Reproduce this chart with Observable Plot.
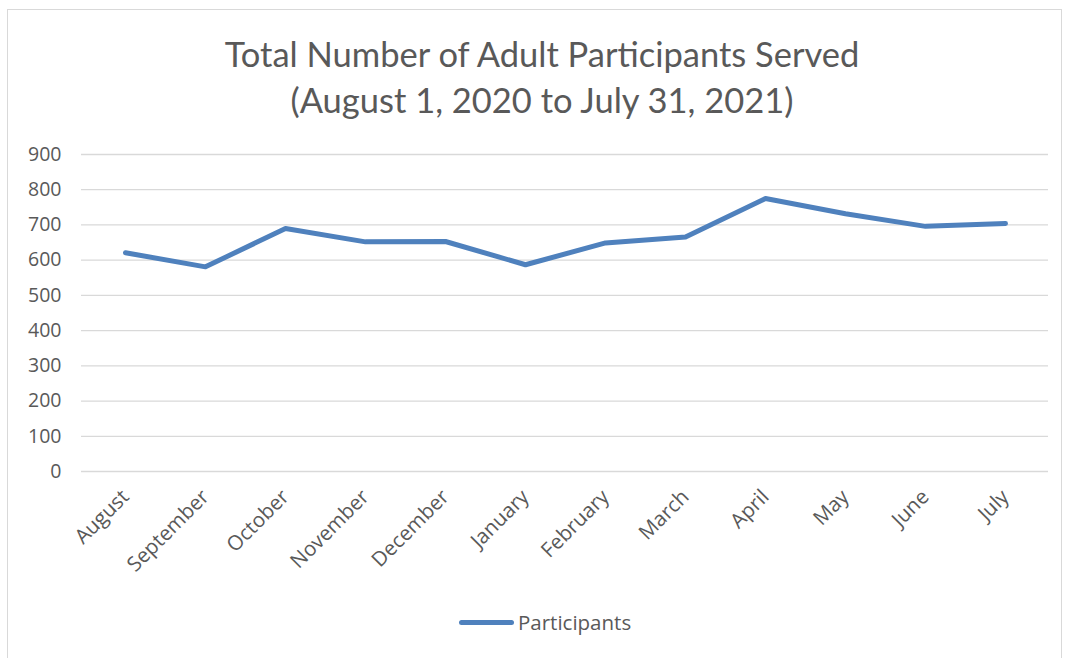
<!DOCTYPE html>
<html>
<head>
<meta charset="utf-8">
<script src="https://cdn.jsdelivr.net/npm/d3@7"></script>
<script src="https://cdn.jsdelivr.net/npm/@observablehq/plot@0.6"></script>
<style>
  html, body { margin: 0; padding: 0; background: #fff; }
  body { width: 1068px; height: 658px; position: relative; overflow: hidden; font-family: "Open Sans", Lato, sans-serif; }
  #frame { position: absolute; left: 7px; top: 9px; width: 1055px; height: 670px; border: 1px solid #d9d9d9; box-sizing: border-box; }
  #title { position: absolute; left: 8px; top: 31px; width: 1068px; text-align: center; color: #595959; font-family: Lato, "Open Sans", sans-serif; font-size: 34.5px; line-height: 46px; }
  #chart { position: absolute; left: 0; top: 125px; }
  #chart svg { overflow: visible; }
  #chart svg text { font-size: 19.5px; fill: #595959; }
  #chart svg g[aria-label="x-axis tick label"] text { font-size: 20.5px; }
  #legend { position: absolute; top: 608px; left: 459px; display: flex; align-items: center; color: #595959; font-size: 20.5px; font-family: "Open Sans", sans-serif; }
  #legend .sw { width: 55px; height: 5px; border-radius: 3px; background: #4f81bd; margin-right: 4px; }
</style>
</head>
<body>
<div id="frame"></div>
<div id="title">Total Number of Adult Participants Served<br>(August 1, 2020 to July 31, 2021)</div>
<div id="chart"></div>
<div id="legend"><div class="sw"></div><span>Participants</span></div>
<script>
const months = ["August","September","October","November","December","January","February","March","April","May","June","July"];
const participants = [621, 581, 690, 652, 653, 587, 649, 666, 775, 732, 696, 704];
const yTicks = [0, 100, 200, 300, 400, 500, 600, 700, 800, 900];

const data = months.map((m, i) => ({month: m, value: participants[i]}));

const chart = Plot.plot({
  width: 1068,
  height: 476,
  marginLeft: 81,
  marginRight: 20,
  marginTop: 29,
  marginBottom: 130,
  style: { fontFamily: "'Open Sans', sans-serif", fontSize: "19.5px", color: "#595959", background: "transparent" },
  x: { type: "point", domain: months, padding: 0.5, label: null },
  y: { domain: [0, 900], ticks: yTicks, label: null },
  marks: [
    Plot.ruleY(yTicks, { stroke: "#d9d9d9", strokeWidth: 1.3 }),
    Plot.axisY({ ticks: yTicks, tickSize: 0, tickPadding: 20, label: null, fill: "#595959" }),
    Plot.axisX({ tickSize: 0, tickPadding: 22, tickRotate: -45, label: null, fill: "#595959" }),
    Plot.line(data, { x: "month", y: "value", stroke: "#4f81bd", strokeWidth: 5, strokeLinecap: "round", strokeLinejoin: "round" })
  ]
});
document.getElementById("chart").appendChild(chart);
</script>
</body>
</html>
